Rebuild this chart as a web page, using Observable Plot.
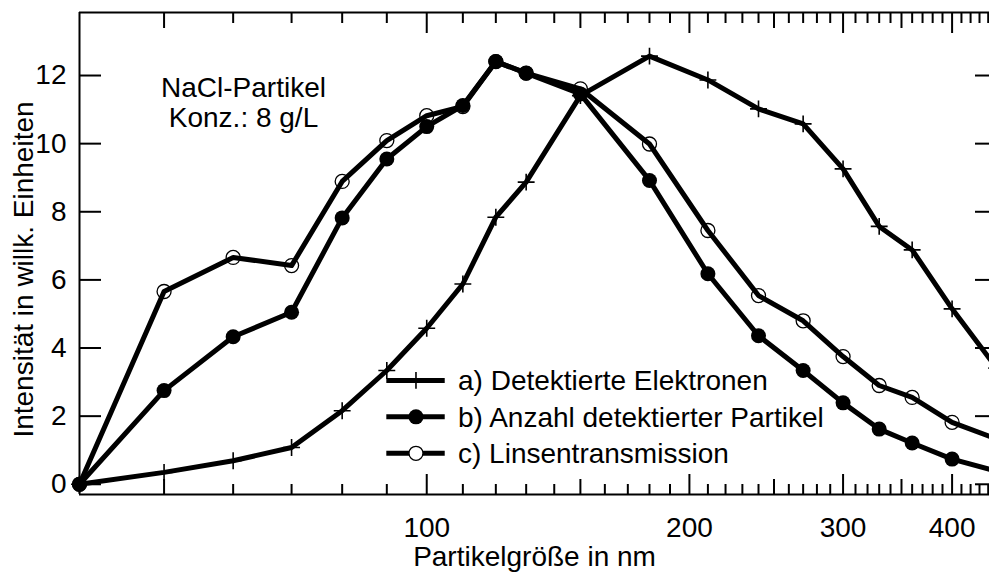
<!DOCTYPE html>
<html>
<head>
<meta charset="utf-8">
<script src="https://cdn.jsdelivr.net/npm/d3@7"></script>
<script src="https://cdn.jsdelivr.net/npm/@observablehq/plot@0.6"></script>
<style>
  html, body { margin: 0; padding: 0; background: #fff; overflow: hidden; }
  #chart { width: 989px; height: 574px; overflow: hidden; }
  #chart svg { display: block; overflow: hidden; }
</style>
</head>
<body>
<div id="chart"></div>
<script>
// ---- data ----
const sizes        = [40, 50, 60, 70, 80, 90, 100, 110, 120, 130, 150, 180, 210, 240, 270, 300, 330, 360, 400, 450];
const electrons    = [0, 0.35, 0.69, 1.08, 2.16, 3.34, 4.58, 5.88, 7.84, 8.87, 11.41, 12.57, 11.87, 11.02, 10.58, 9.26, 7.57, 6.88, 5.15, 3.41];
const particles    = [0, 2.75, 4.33, 5.05, 7.82, 9.55, 10.50, 11.12, 12.41, 12.07, 11.46, 8.92, 6.18, 4.36, 3.34, 2.39, 1.62, 1.21, 0.74, 0.38];
const transmission = [0, 5.66, 6.66, 6.42, 8.89, 10.09, 10.82, 11.09, 12.41, 12.07, 11.61, 9.99, 7.45, 5.54, 4.80, 3.75, 2.90, 2.55, 1.82, 1.33];

const seriesNames = ["a) Detektierte Elektronen", "b) Anzahl detektierter Partikel", "c) Linsentransmission"];

const xMajorTicks  = [100, 200, 300, 400];
const xMediumTicks = [50, 150, 250, 350];
const xMinorTicks  = [60, 70, 80, 90, 110, 120, 130, 140, 160, 170, 180, 190, 210, 220, 230, 240,
                      260, 270, 280, 290, 310, 320, 330, 340, 360, 370, 380, 390, 410, 420, 430, 440];
const yTicks       = [0, 2, 4, 6, 8, 10, 12];

const xTitle = "Partikelgröße in nm";
const yTitle = "Intensität in willk. Einheiten";
const noteLines = ["NaCl-Partikel", "Konz.: 8 g/L"];

// ---- layout ----
const W = 989, H = 574;
const mL = 79, mR = 0, mT = 12, mB = 80;
const frameW = W - mL - mR, frameH = H - mT - mB;
const xDomain = [40, 441.5], yDomain = [-0.3, 13.85];
const FONT = 28;

// legend placement (data units, inside the plot)
const legX1 = 90, legX2 = 105, legXm = 97.2, legXt = 108.6, legY0 = 3.05, legStep = 1.07;

const rows = sizes.map((s, i) => ({s, a: electrons[i], b: particles[i], c: transmission[i]}));
const legendRows = seriesNames.map((name, i) => ({name, i, ly: legY0 - i * legStep}));

const lineStyle = {stroke: "black", strokeWidth: 5, strokeLinejoin: "round", strokeLinecap: "round"};

const plot = Plot.plot({
  width: W, height: H,
  marginLeft: mL, marginRight: mR, marginTop: mT, marginBottom: mB,
  x: {type: "log", domain: xDomain},
  y: {domain: yDomain},
  style: {fontFamily: "'Liberation Sans', Arial, sans-serif", fontSize: FONT + "px", background: "white", color: "black"},
  marks: [
    // frame (left, top, bottom)
    Plot.ruleY([yDomain[0]], {strokeWidth: 2}),
    Plot.ruleY([yDomain[1]], {strokeWidth: 2}),
    Plot.ruleX([xDomain[0]], {strokeWidth: 2}),
    // bottom ticks (inward)
    Plot.ruleX(xMajorTicks,  {x: d => d, insetTop: frameH - 20, strokeWidth: 2}),
    Plot.ruleX(xMediumTicks, {x: d => d, insetTop: frameH - 15, strokeWidth: 2}),
    Plot.ruleX(xMinorTicks,  {x: d => d, insetTop: frameH - 10, strokeWidth: 2}),
    // top ticks (inward)
    Plot.ruleX(xMajorTicks,  {x: d => d, insetBottom: frameH - 21, strokeWidth: 2}),
    Plot.ruleX(xMediumTicks, {x: d => d, insetBottom: frameH - 16, strokeWidth: 2}),
    Plot.ruleX(xMinorTicks,  {x: d => d, insetBottom: frameH - 11, strokeWidth: 2}),
    // y ticks left and right (inward)
    Plot.ruleY(yTicks, {y: d => d, insetRight: frameW - 22, strokeWidth: 2}),
    Plot.ruleY(yTicks, {y: d => d, insetLeft: frameW - 14, strokeWidth: 2}),
    // axis labels
    Plot.axisX(xMajorTicks, {tickSize: 0, tickPadding: 23, tickFormat: d => String(d), fontSize: FONT, label: null}),
    Plot.axisY(yTicks, {anchor: "left", tickSize: 0, tickPadding: 13, tickFormat: d => String(d), fontSize: FONT, label: null}),
    // series lines
    Plot.line(rows, {x: "s", y: "a", ...lineStyle}),
    Plot.line(rows, {x: "s", y: "b", ...lineStyle}),
    Plot.line(rows, {x: "s", y: "c", ...lineStyle}),
    // markers
    Plot.dot(rows, {x: "s", y: "a", symbol: "plus", r: 5.5, fill: "none", stroke: "black", strokeWidth: 1.6}),
    Plot.dot(rows, {x: "s", y: "b", r: 7.5, fill: "black", stroke: "none"}),
    Plot.dot(rows, {x: "s", y: "c", r: 7, fill: "none", stroke: "black", strokeWidth: 1.3}),
    // legend
    Plot.ruleY(legendRows, {y: "ly", x1: () => legX1, x2: () => legX2, stroke: "black", strokeWidth: 5}),
    Plot.dot(legendRows.filter(d => d.i === 0), {x: () => legXm, y: "ly", symbol: "plus", r: 5.5, fill: "none", stroke: "black", strokeWidth: 1.6}),
    Plot.dot(legendRows.filter(d => d.i === 1), {x: () => legXm, y: "ly", r: 7.5, fill: "black", stroke: "none"}),
    Plot.dot(legendRows.filter(d => d.i === 2), {x: () => legXm, y: "ly", r: 7, fill: "white", stroke: "black", strokeWidth: 1.3}),
    Plot.text(legendRows, {x: () => legXt, y: "ly", text: "name", textAnchor: "start", lineAnchor: "middle", dy: 1, fontSize: FONT, fill: "black"}),
    // annotation
    Plot.text([noteLines.join("\n")], {frameAnchor: "top-left", textAnchor: "middle", lineAnchor: "top", dx: 164, dy: 63, lineHeight: 1.07, fontSize: FONT, fill: "black"}),
    // axis titles
    Plot.text([xTitle], {frameAnchor: "bottom", textAnchor: "middle", lineAnchor: "bottom", dy: 71, fontSize: FONT, fill: "black"}),
    Plot.text([yTitle], {frameAnchor: "left", textAnchor: "middle", lineAnchor: "middle", rotate: -90, dx: -55, dy: 16, fontSize: FONT, fill: "black"})
  ]
});
document.getElementById("chart").appendChild(plot);
</script>
</body>
</html>
